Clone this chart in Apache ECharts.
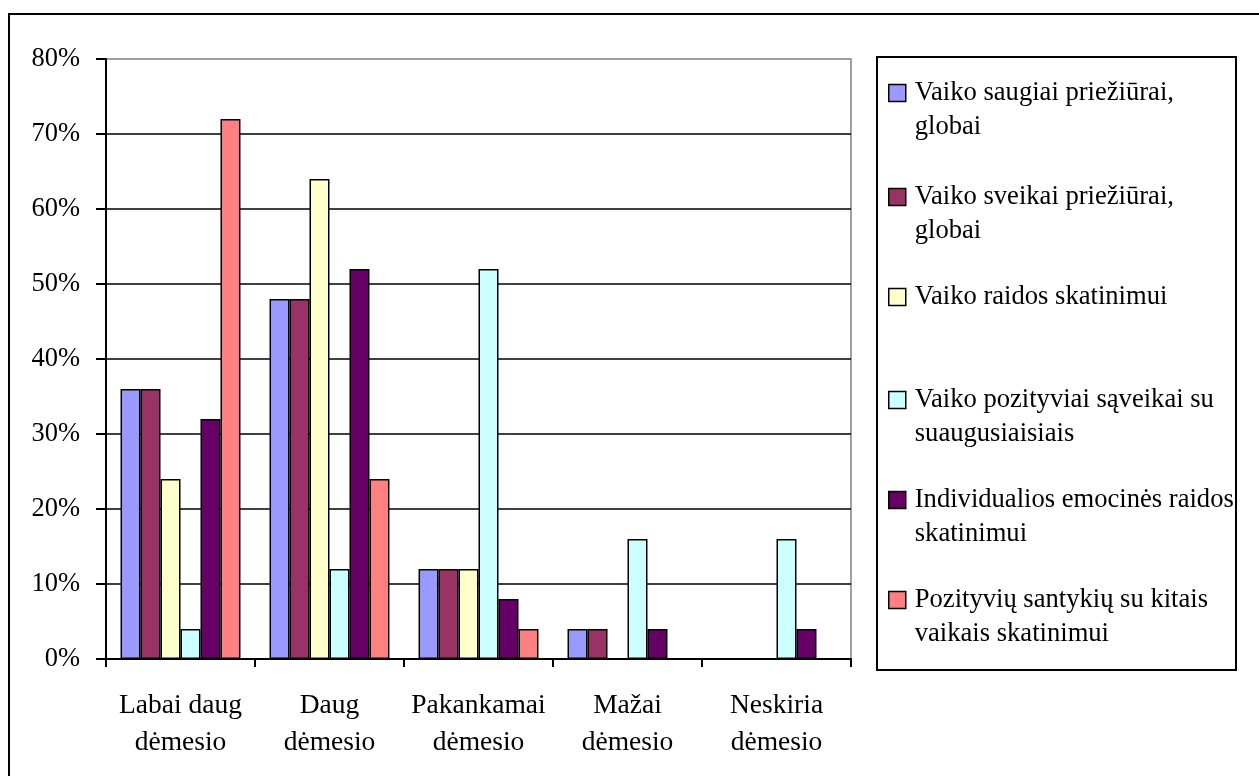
<!DOCTYPE html>
<html>
<head>
<meta charset="utf-8">
<script src="https://cdn.jsdelivr.net/npm/echarts@6/dist/echarts.min.js"></script>
<style>html,body{margin:0;padding:0;background:#fff;}#c{width:1259px;height:776px;}</style>
</head>
<body>
<div id="c"></div>
<script>
const categories = ['Labai daug\ndėmesio', 'Daug\ndėmesio', 'Pakankamai\ndėmesio', 'Mažai\ndėmesio', 'Neskiria\ndėmesio'];
const seriesNames = [
  'Vaiko saugiai priežiūrai, globai',
  'Vaiko sveikai priežiūrai, globai',
  'Vaiko raidos skatinimui',
  'Vaiko pozityviai sąveikai su suaugusiaisiais',
  'Individualios emocinės raidos skatinimui',
  'Pozityvių santykių su kitais vaikais skatinimui'
];
const legendLabels = [
  'Vaiko saugiai priežiūrai,\nglobai',
  'Vaiko sveikai priežiūrai,\nglobai',
  'Vaiko raidos skatinimui',
  'Vaiko pozityviai sąveikai su\nsuaugusiaisiais',
  'Individualios emocinės raidos\nskatinimui',
  'Pozityvių santykių su kitais\nvaikais skatinimui'
];
const colors = ['#9999FF', '#993366', '#FFFFCC', '#CCFFFF', '#660066', '#FF8080'];
const saugiai = [36, 48, 12, 4, 0];
const sveikai = [36, 48, 12, 4, 0];
const raidos = [24, 64, 12, 0, 0];
const saveikai = [4, 12, 52, 16, 16];
const emocines = [32, 52, 8, 4, 4];
const santykiu = [72, 24, 4, 0, 0];
const seriesValues = [saugiai, sveikai, raidos, saveikai, emocines, santykiu];
const yTicks = [0, 10, 20, 30, 40, 50, 60, 70, 80];
const legendLineCenters = [93, 197, 297, 400, 500, 600];

const FONT = 'Liberation Serif';
const LH = 34.5;

const series = seriesNames.map((n, i) => ({
  name: n,
  type: 'bar',
  data: seriesValues[i],
  barGap: '0%',
  barCategoryGap: '19.5%',
  itemStyle: { color: colors[i], borderColor: '#000', borderWidth: 1.5 },
  emphasis: { disabled: true }
}));

const legends = seriesNames.map((n, i) => {
  const twoLines = legendLabels[i].indexOf('\n') >= 0;
  const top = twoLines ? legendLineCenters[i] - 1.5 * LH : legendLineCenters[i] - 0.5 * LH;
  return {
    data: [n],
    left: 888,
    top: top,
    padding: 0,
    orient: 'vertical',
    itemWidth: 17,
    itemHeight: 17,
    selectedMode: false,
    icon: 'rect',
    itemStyle: { borderColor: '#000', borderWidth: 1.5 },
    formatter: () => (twoLines ? ' \n' : '') + legendLabels[i],
    textStyle: {
      fontFamily: FONT, fontSize: 26.6, color: '#000', lineHeight: LH,
      padding: [0, 0, 0, 4]
    }
  };
});

const chart = echarts.init(document.getElementById('c'), null, { renderer: 'canvas' });
chart.setOption({
  animation: false,
  backgroundColor: '#fff',
  grid: { left: 106, top: 59, width: 745, height: 600, show: true, borderColor: '#808080', borderWidth: 1.5, backgroundColor: 'transparent' },
  legend: legends,
  xAxis: {
    type: 'category',
    data: categories,
    axisLine: { lineStyle: { color: '#000', width: 2 } },
    axisTick: { show: true, length: 8, lineStyle: { color: '#000', width: 2 } },
    axisLabel: { fontFamily: FONT, fontSize: 27.5, color: '#000', lineHeight: 37, margin: 28, interval: 0 }
  },
  yAxis: {
    type: 'value',
    min: 0, max: 80, interval: 10,
    axisLine: { show: true, lineStyle: { color: '#000', width: 2 } },
    axisTick: { show: true, length: 10, lineStyle: { color: '#000', width: 2 } },
    axisLabel: { fontFamily: FONT, fontSize: 26.5, color: '#000', margin: 26, formatter: v => (yTicks.indexOf(v) >= 0 ? v + '%' : '') },
    splitLine: { show: true, showMaxLine: false, lineStyle: { color: '#000', width: 1.5 } }
  },
  series: series,
  graphic: [
    { type: 'rect', shape: { x: 9, y: 14, width: 1300, height: 800 }, style: { fill: 'none', stroke: '#000', lineWidth: 2 }, silent: true },
    { type: 'rect', shape: { x: 877, y: 57, width: 359, height: 613 }, style: { fill: 'none', stroke: '#000', lineWidth: 2 }, silent: true }
  ]
});
</script>
</body>
</html>
